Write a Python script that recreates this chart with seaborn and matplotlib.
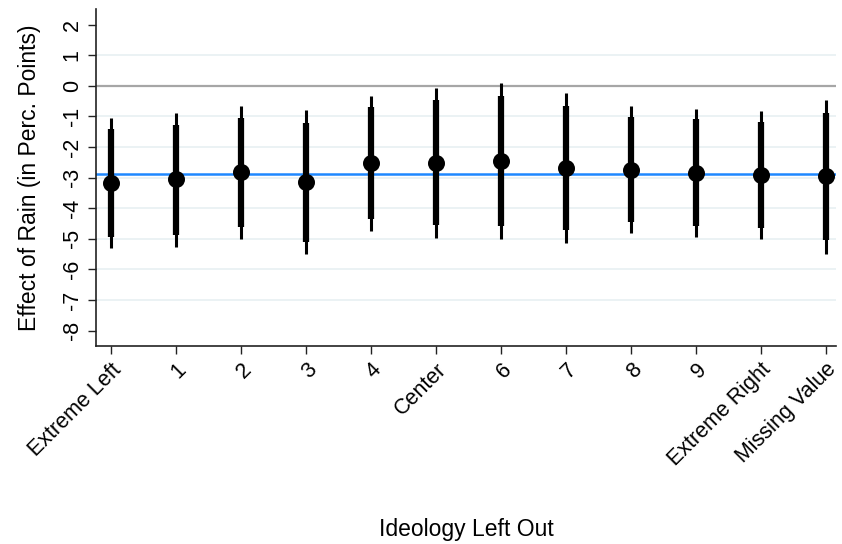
import matplotlib
matplotlib.use("Agg")
import matplotlib.pyplot as plt
import numpy as np
import pandas as pd
import seaborn as sns

# data
categories = ["Extreme Left", "1", "2", "3", "4", "Center", "6", "7", "8",
              "9", "Extreme Right", "Missing Value"]
estimate = [-3.17, -3.06, -2.83, -3.15, -2.51, -2.52, -2.46, -2.69, -2.74,
            -2.85, -2.90, -2.96]
ci90_low = [-4.95, -4.86, -4.62, -5.10, -4.36, -4.56, -4.59, -4.72, -4.46,
            -4.59, -4.65, -5.04]
ci90_high = [-1.40, -1.27, -1.04, -1.21, -0.70, -0.48, -0.35, -0.67, -1.02,
             -1.10, -1.17, -0.89]
ci95_low = [-5.31, -5.26, -5.00, -5.51, -4.73, -4.98, -5.02, -5.13, -4.80,
            -4.93, -5.00, -5.48]
ci95_high = [-1.04, -0.88, -0.67, -0.80, -0.32, -0.07, 0.10, -0.25, -0.67,
             -0.75, -0.82, -0.45]
baseline = -2.87
y_ticks = [2, 1, 0, -1, -2, -3, -4, -5, -6, -7, -8]
grid_levels = [1, -1, -2, -3, -4, -5, -6, -7]

df = pd.DataFrame({
    "pos": np.arange(len(categories)),
    "est": estimate,
    "lo90": ci90_low, "hi90": ci90_high,
    "lo95": ci95_low, "hi95": ci95_high,
})

sns.set_theme(style="white")
plt.rcParams["font.family"] = ["Liberation Sans", "DejaVu Sans"]
plt.rcParams["text.color"] = "black"
plt.rcParams["axes.labelcolor"] = "black"
plt.rcParams["xtick.color"] = "black"
plt.rcParams["ytick.color"] = "black"

fig = plt.figure(figsize=(8.42, 5.44), dpi=100)
ax = fig.add_axes([0.114, 0.364, 0.879, 0.619])

for g in grid_levels:
    ax.axhline(g, color="#e8f0f2", lw=1.2, zorder=0)
ax.axhline(0, color="#a6a6a6", lw=1.6, zorder=1)
ax.axhline(baseline, color="#1e88ff", lw=1.8, zorder=1)

ax.vlines(df["pos"], df["lo95"], df["hi95"], color="black", lw=2.2, zorder=2)
ax.vlines(df["pos"], df["lo90"], df["hi90"], color="black", lw=4.5, zorder=3)
sns.scatterplot(data=df, x="pos", y="est", ax=ax, color="black", s=150,
                edgecolor="black", linewidth=0, zorder=4, legend=False)

ax.set_xlim(-0.23, 11.16)
ax.set_ylim(-8.5, 2.5)
ax.set_yticks(y_ticks)
ax.set_yticklabels([str(t) for t in y_ticks], rotation=90, va="center",
                   fontsize=15.5)
ax.set_xticks(df["pos"])
ax.set_xticklabels(categories, rotation=45, ha="right",
                   rotation_mode="anchor", fontsize=15.5)
ax.tick_params(axis="both", length=6, width=1, color="#222222",
               direction="out", pad=3.5, left=True, bottom=True)

for side in ["top", "right"]:
    ax.spines[side].set_visible(False)
for side in ["left", "bottom"]:
    ax.spines[side].set_color("#222222")
    ax.spines[side].set_linewidth(1.2)

ax.set_xlabel("Ideology Left Out", fontsize=16.5)
ax.xaxis.set_label_coords(0.5, -0.545)
ax.xaxis.label.set_va("center")
ax.set_ylabel("Effect of Rain (in Perc. Points)", fontsize=16.5)
ax.yaxis.set_label_coords(-0.09, 0.5)
ax.yaxis.label.set_va("center")

fig.savefig("out.png", dpi=100)
